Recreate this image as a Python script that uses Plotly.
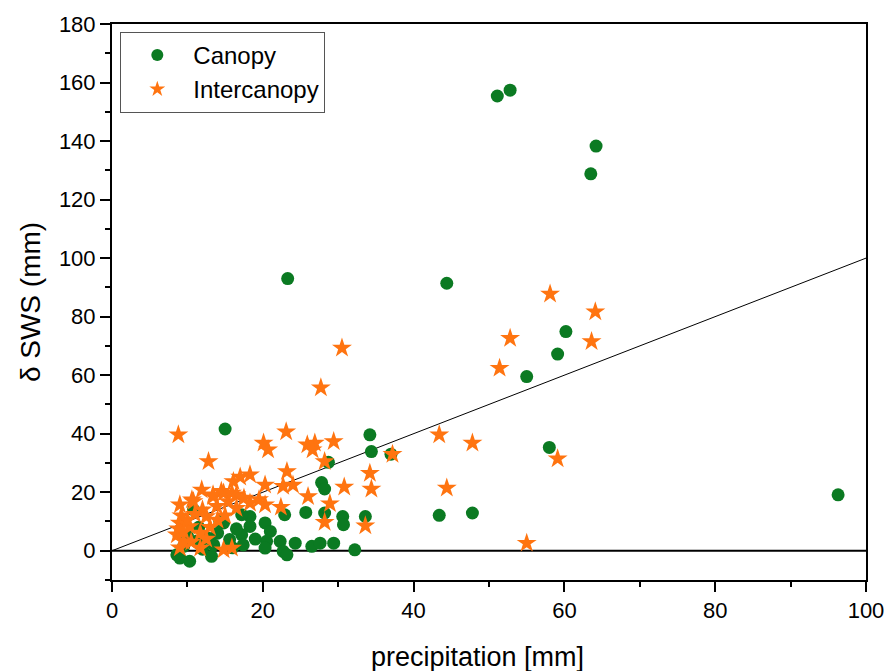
import plotly.graph_objects as go

canopy_x = [51.1, 52.8, 64.2, 63.5, 23.3, 44.4, 60.2, 59.1, 55.0, 58.0, 96.3, 43.4, 47.8, 15.0,
            34.2, 34.4, 37.0, 28.7, 27.8, 28.2, 22.9, 25.7, 28.2, 30.6, 30.7, 33.6, 18.3, 20.3,
            18.3, 21.0, 17.2, 20.5, 20.3, 22.3, 24.3, 22.7, 23.2, 26.5, 27.6, 29.4, 32.2, 17.4,
            10.8, 17.2, 9.0, 10.3, 8.6, 14.8, 14.3, 15.6, 13.2, 12.8, 11.2, 16.0, 12.0, 9.5,
            14.0, 19.0, 10.0, 13.5, 11.5, 16.5]
canopy_y = [155.4, 157.4, 138.3, 128.8, 93.0, 91.4, 74.9, 67.2, 59.5, 35.3, 19.1, 12.1, 12.9, 41.6,
            39.6, 33.9, 33.0, 30.2, 23.3, 21.1, 12.3, 13.1, 12.9, 11.7, 8.9, 11.7, 11.7, 9.5,
            8.3, 6.6, 5.5, 3.2, 0.9, 3.2, 2.6, -0.2, -1.4, 1.5, 2.6, 2.6, 0.3, 2.0,
            14.0, 12.3, -2.5, -3.6, -1.4, 9.5, 10.0, 3.8, -1.9, 4.3, 3.2, 1.0, 0.5, 1.5,
            6.0, 4.0, 5.0, 2.0, 8.0, 7.5]

inter_x = [58.1, 64.1, 52.8, 63.6, 51.4, 43.4, 47.8, 59.1, 44.4, 55.0, 30.5, 27.7, 23.1, 20.1,
           20.7, 25.9, 26.9, 26.6, 29.4, 37.2, 28.2, 17.0, 18.3, 23.2, 34.2, 20.3, 22.7, 24.0,
           30.8, 34.4, 26.0, 28.9, 20.3, 22.4, 28.2, 33.6, 16.1, 15.9, 8.8, 12.8, 11.9, 9.0,
           10.8, 13.4, 14.5, 16.5, 15.4, 13.9, 18.3, 10.6, 13.4, 14.8, 15.9, 9.0, 8.6, 9.5,
           11.7, 14.8, 12.5, 10.3, 11.7, 9.2, 10.0, 12.0, 8.8, 9.5, 11.0, 13.0, 16.5, 17.5,
           19.5, 15.0, 9.0, 10.5, 12.5, 14.0]
inter_y = [87.7, 81.7, 72.6, 71.5, 62.4, 39.6, 36.8, 31.4, 21.4, 2.6, 69.3, 55.7, 40.7, 36.8,
           34.5, 36.2, 36.8, 34.5, 37.3, 33.0, 30.5, 25.2, 26.0, 27.1, 26.5, 22.5, 22.0, 22.5,
           21.8, 21.1, 18.5, 16.1, 15.7, 14.9, 9.7, 8.5, 23.7, 0.9, 39.6, 30.5, 20.8, 15.7,
           16.8, 18.5, 20.3, 19.1, 16.8, 15.2, 16.3, 17.4, 19.1, 19.7, 19.7, 9.5, 5.5, 3.2,
           0.9, 0.3, 11.7, 8.3, 6.1, 12.0, 10.5, 14.0, 7.5, 6.5, 12.5, 8.0, 14.5, 18.0,
           17.5, 12.0, 1.0, 3.0, 4.0, 10.5]

line_x = [0, 100]
line_y = [0, 100]
zero_x = [0, 100]
zero_y = [0, 0]

GREEN = "#0B7A22"
ORANGE = "#FF7410"
FONT = "Liberation Sans, Arial, sans-serif"

fig = go.Figure()
fig.add_trace(go.Scatter(x=zero_x, y=zero_y, mode="lines",
                         line=dict(color="black", width=2), showlegend=False, hoverinfo="skip"))
fig.add_trace(go.Scatter(x=line_x, y=line_y, mode="lines",
                         line=dict(color="black", width=1), showlegend=False, hoverinfo="skip"))
fig.add_trace(go.Scatter(x=canopy_x, y=canopy_y, mode="markers", name="Canopy",
                         marker=dict(symbol="circle", size=13, color=GREEN, line=dict(width=0))))
fig.add_trace(go.Scatter(x=inter_x, y=inter_y, mode="markers", name="Intercanopy",
                         marker=dict(symbol="star", size=15, color=ORANGE, line=dict(width=0))))

axis_common = dict(showgrid=False, zeroline=False, showline=True, linecolor="black",
                   linewidth=2, mirror=True, ticks="outside", ticklen=10, tickwidth=2,
                   tickcolor="black", automargin=False)

fig.update_xaxes(range=[0, 100], tick0=0, dtick=20,
                 tickfont=dict(family=FONT, size=22, color="black"),
                 minor=dict(ticks="outside", ticklen=5, tickwidth=2, tickcolor="black", dtick=10),
                 **axis_common)
fig.update_yaxes(range=[-10, 180], tick0=0, dtick=20,
                 tickfont=dict(family=FONT, size=22, color="black"),
                 minor=dict(ticks="outside", ticklen=5, tickwidth=2, tickcolor="black", tick0=-10, dtick=20),
                 title=dict(text="δ SWS (mm)", font=dict(family=FONT, size=28, color="black"),
                            standoff=10),
                 **axis_common)

fig.add_annotation(text="precipitation [mm]", xref="paper", yref="paper",
                   x=0.485, y=-0.1385, xanchor="center", yanchor="middle", showarrow=False,
                   font=dict(family=FONT, size=27, color="black"))

fig.update_layout(
    width=889, height=671,
    margin=dict(l=112, r=23, t=24, b=91),
    plot_bgcolor="white", paper_bgcolor="white",
    legend=dict(x=0.011, y=0.986, xanchor="left", yanchor="top",
                bgcolor="white", bordercolor="#555555", borderwidth=1,
                font=dict(family=FONT, size=24, color="black"),
                itemsizing="constant", itemwidth=62, tracegroupgap=0),
    font=dict(family=FONT),
)

fig.write_html("out.html")
